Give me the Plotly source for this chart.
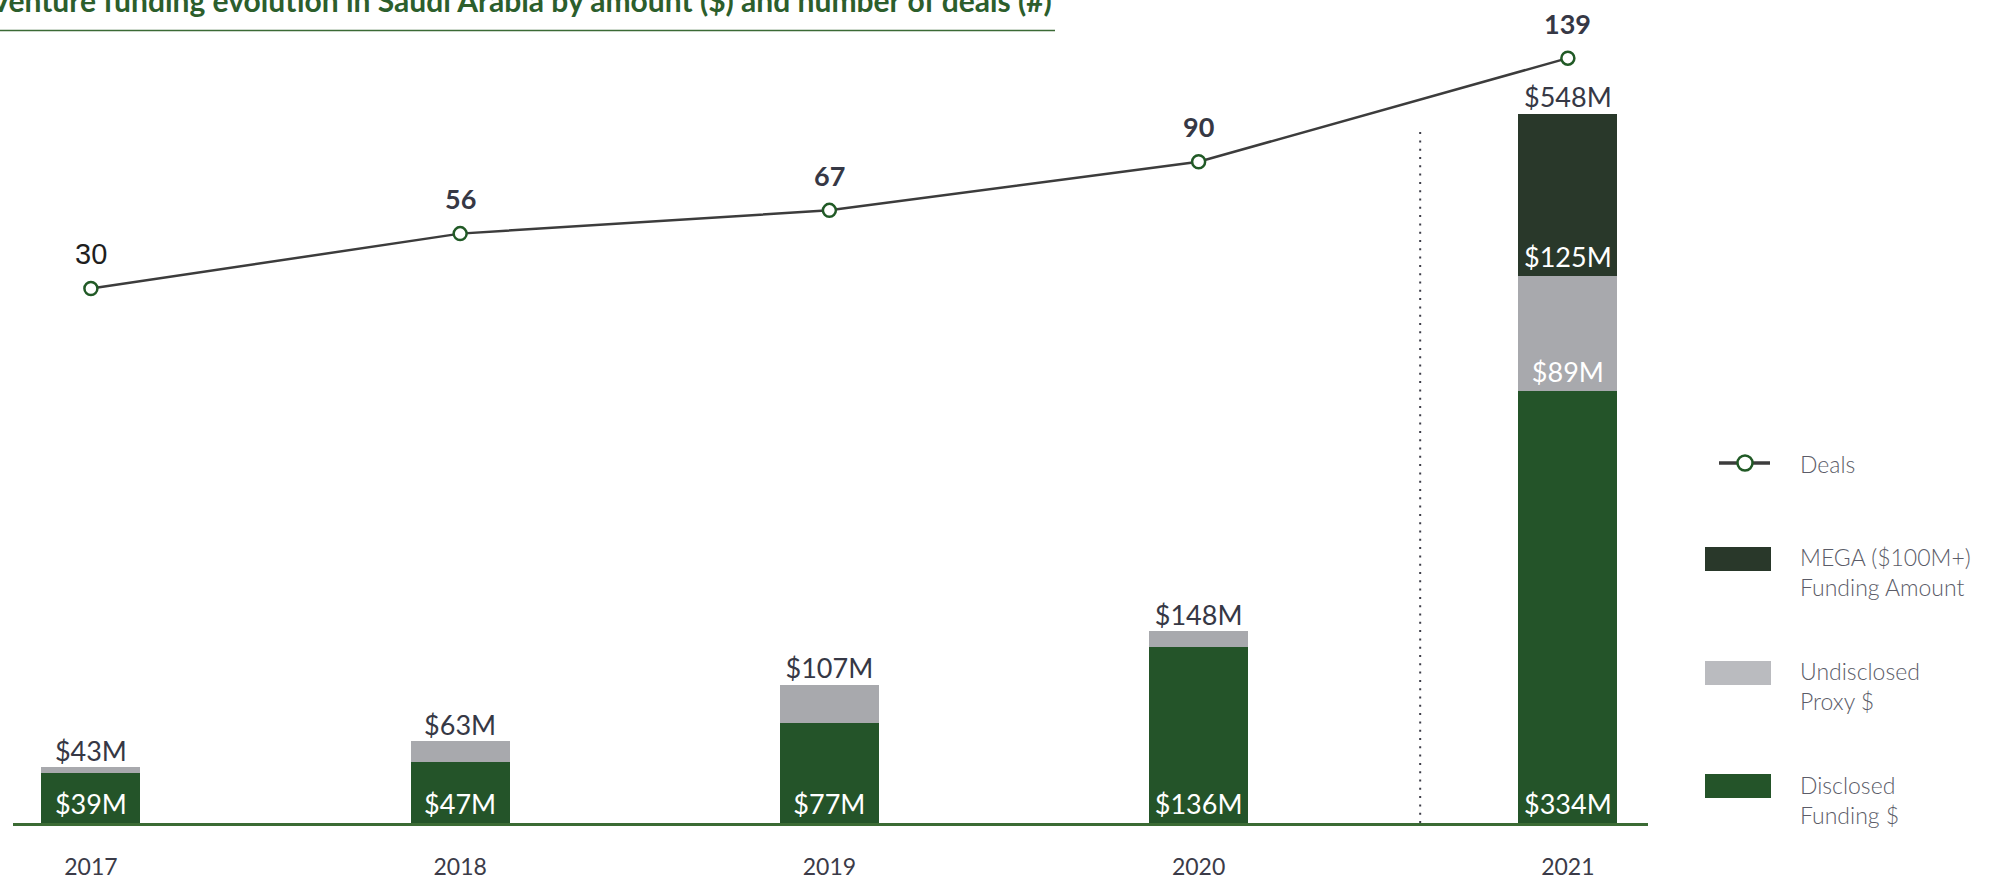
import plotly.graph_objects as go

# ---------------- data ----------------
years = ["2017", "2018", "2019", "2020", "2021"]
disclosed = [39, 47, 77, 136, 334]
undisclosed = [4, 16, 30, 12, 89]
mega = [0, 0, 0, 0, 125]
deals = [30, 56, 67, 90, 139]
series_names = ["Deals", "MEGA ($100M+)<br>Funding Amount", "Undisclosed<br>Proxy $", "Disclosed<br>Funding $"]
title_text = "Venture funding evolution in Saudi Arabia by amount ($) and number of deals (#)"

totals = [d + u + m for d, u, m in zip(disclosed, undisclosed, mega)]

# ---------------- styling / geometry ----------------
FIG_W, FIG_H = 1991, 882
L, R, T, B = 13, 1648, 20, 823
PW, PH = R - L, B - T

def px(x):
    return (x - L) / PW

def py(y):
    return (B - y) / PH

C_DISC = "#245429"
C_UND = "#a8a9ad"
C_UND_LEG = "#babbbf"
C_MEGA = "#29382a"
C_TEXT = "#363845"
C_LINE = "#3c3c3c"
C_MARK = "#215a26"
C_AXIS = "#3b6b34"
C_TITLE = "#2c5e2c"
FONT = "Lato"

def money(v):
    return f"${v}M"

disc_text = [money(v) for v in disclosed]
und_text = [money(v) if v >= 50 else "" for v in undisclosed]
mega_text = [money(v) if v >= 50 else "" for v in mega]
total_text = [money(v) for v in totals]

BAR_W = 0.268
bar_font = dict(family=FONT, size=27, color="white")

fig = go.Figure()

fig.add_trace(go.Bar(
    x=years, y=disclosed, name="Disclosed Funding $", width=BAR_W,
    marker=dict(color=C_DISC, line=dict(width=0)),
    text=disc_text, textposition="inside", insidetextanchor="start",
    textangle=0, constraintext="none", insidetextfont=bar_font,
    showlegend=False, hoverinfo="skip",
))
fig.add_trace(go.Bar(
    x=years, y=undisclosed, name="Undisclosed Proxy $", width=BAR_W,
    marker=dict(color=C_UND, line=dict(width=0)),
    text=und_text, textposition="inside", insidetextanchor="start",
    textangle=0, constraintext="none", insidetextfont=bar_font,
    showlegend=False, hoverinfo="skip",
))
fig.add_trace(go.Bar(
    x=years, y=mega, name="MEGA ($100M+) Funding Amount", width=BAR_W,
    marker=dict(color=C_MEGA, line=dict(width=0)),
    text=mega_text, textposition="inside", insidetextanchor="start",
    textangle=0, constraintext="none", insidetextfont=bar_font,
    showlegend=False, hoverinfo="skip",
))
# totals above bars
fig.add_trace(go.Scatter(
    x=years, y=totals, mode="text", text=total_text, textposition="top center",
    textfont=dict(family=FONT, size=27, color=C_TEXT),
    cliponaxis=False, showlegend=False, hoverinfo="skip",
))
# deals line
fig.add_trace(go.Scatter(
    x=years, y=deals, yaxis="y2", mode="lines+markers", name="Deals",
    line=dict(color=C_LINE, width=2.5),
    marker=dict(symbol="circle", size=13, color="white", line=dict(color=C_MARK, width=2.5)),
    cliponaxis=False, showlegend=False, hoverinfo="skip",
))

shapes = []
annotations = []

# deal count labels (x given as category index)
for i, d in enumerate(deals):
    if i == 0:
        f = dict(family="Liberation Sans", size=29, color="#1e1e1e")
        t = str(d)
    else:
        f = dict(family=FONT, size=27, color=C_TEXT)
        t = f"<b>{d}</b>"
    annotations.append(dict(text=t, x=i, y=d, xref="x", yref="y2", yanchor="middle",
                            xanchor="center", yshift=35, showarrow=False, font=f))

# dotted separator between 2020 and 2021
shapes.append(dict(type="line", xref="x", yref="paper", x0=3.6, x1=3.6, y0=0, y1=py(127),
                   line=dict(color="#3d3d48", width=2, dash="2px,6.3px")))

# title underline
shapes.append(dict(type="line", xref="paper", yref="paper", x0=px(0), x1=px(1055),
                   y0=py(30.5), y1=py(30.5), line=dict(color="#3b6a35", width=1.5)))
annotations.append(dict(text=f"<b>{title_text}</b>", xref="paper", yref="paper",
                        x=px(1054), y=py(0), xanchor="right", yanchor="middle", showarrow=False,
                        font=dict(family=FONT, size=30, color=C_TITLE)))

# ---- custom legend ----
leg_font = dict(family=FONT, size=23, color="#5b5c68", weight=300)
TX = 1798
# Deals
shapes.append(dict(type="line", xref="paper", yref="paper", x0=px(1719), x1=px(1770),
                   y0=py(463), y1=py(463), line=dict(color=C_LINE, width=3.5)))
shapes.append(dict(type="circle", xref="paper", yref="paper", x0=px(1745 - 7.5), x1=px(1745 + 7.5),
                   y0=py(463 + 7.5), y1=py(463 - 7.5), fillcolor="white",
                   line=dict(color=C_MARK, width=2.5)))
annotations.append(dict(text=series_names[0], xref="paper", yref="paper", x=px(TX), y=py(464),
                        xanchor="left", yanchor="middle", showarrow=False, align="left", font=leg_font))
# boxes
for (name, color, top, text_c) in [
    (series_names[1], C_MEGA, 547, 571.5),
    (series_names[2], C_UND_LEG, 661, 686),
    (series_names[3], C_DISC, 774, 800),
]:
    shapes.append(dict(type="rect", xref="paper", yref="paper", x0=px(1705), x1=px(1771),
                       y0=py(top + 24), y1=py(top), fillcolor=color, line=dict(width=0)))
    annotations.append(dict(text=name, xref="paper", yref="paper", x=px(TX), y=py(text_c),
                            xanchor="left", yanchor="middle", showarrow=False, align="left",
                            font=leg_font))

# axis ranges
Y1_SCALE = 1.294          # px per $M
Y2_SCALE = 2.114          # px per deal
Y2_ZERO = 352             # pixel row of 0 deals
y1_range = [0, PH / Y1_SCALE]
y2_range = [(Y2_ZERO - B) / Y2_SCALE, (Y2_ZERO - T) / Y2_SCALE]

fig.update_layout(
    width=FIG_W, height=FIG_H,
    margin=dict(l=L, r=FIG_W - R, t=T, b=FIG_H - B, pad=0, autoexpand=False),
    paper_bgcolor="white", plot_bgcolor="white",
    barmode="stack",
    font=dict(family=FONT, color=C_TEXT),
    xaxis=dict(type="category", range=[-0.211, 4.217], showline=True, linecolor=C_AXIS,
               linewidth=2.5, ticks="", showgrid=False, zeroline=False, automargin=False,
               tickfont=dict(family=FONT, size=23, color="#3b3b48"), ticklabelstandoff=22),
    yaxis=dict(range=y1_range, visible=False, showgrid=False, zeroline=False, automargin=False),
    yaxis2=dict(range=y2_range, overlaying="y", visible=False, showgrid=False, zeroline=False,
                automargin=False),
    shapes=shapes, annotations=annotations,
    showlegend=False,
)

fig.write_html("out.html")
